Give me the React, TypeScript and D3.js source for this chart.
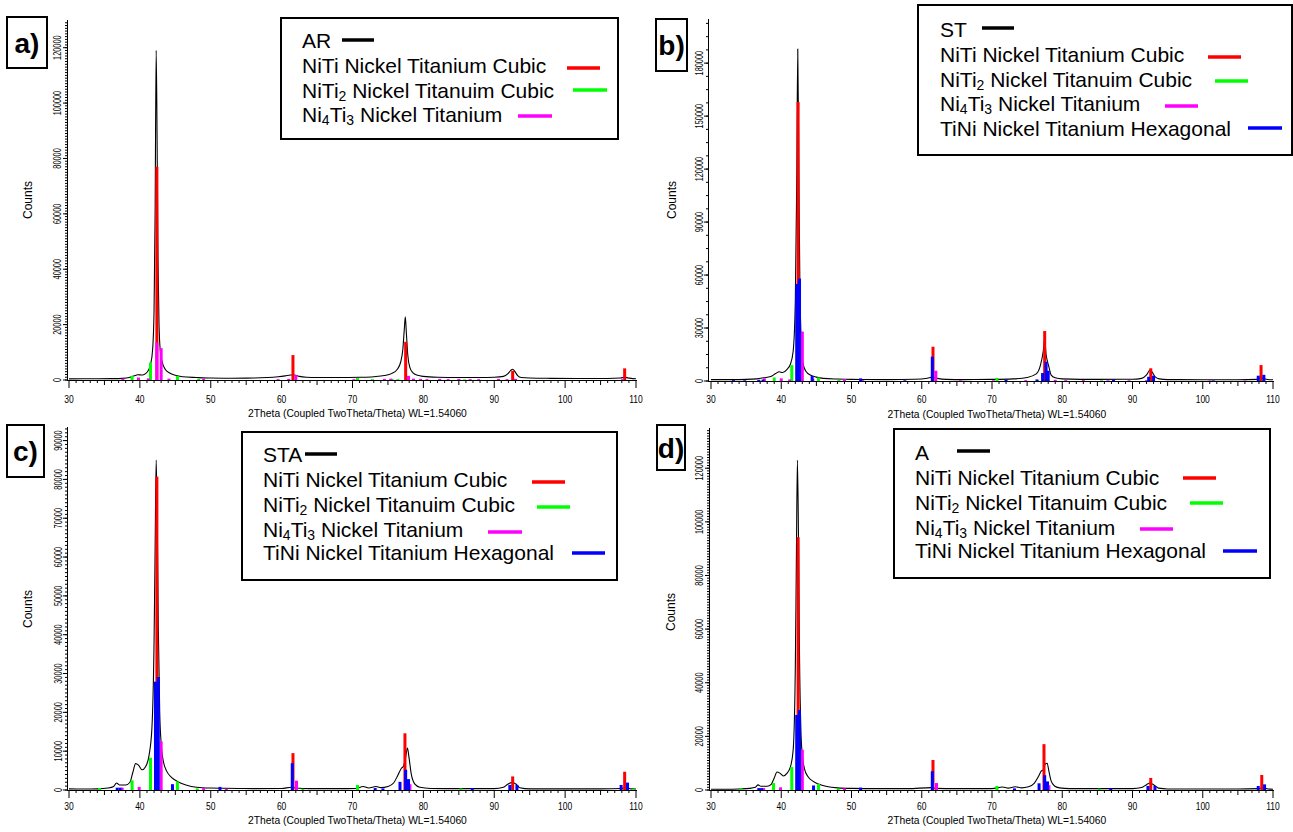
import React from 'react';
import * as d3 from 'd3';

type Pt = [number, number];

// measured patterns: [2theta, counts]
const AR_pattern: Pt[] = [
  [30, 400], [32, 450], [34, 450], [36, 500], [37.5, 600], [38.5, 900], [39.2, 1500], [39.7, 1900],
  [40.3, 1800], [40.8, 2300], [41.2, 3500], [41.5, 5500], [41.8, 11000], [42.0, 25000], [42.15, 60000],
  [42.3, 119000], [42.42, 90000], [42.55, 45000], [42.7, 20000], [42.9, 10000], [43.2, 6000], [43.6, 3800],
  [44.2, 2500], [45, 1700], [46, 1200], [48, 900], [50, 700], [53, 650], [56, 700], [58, 900], [59.5, 1200],
  [60.5, 1500], [61.3, 1800], [61.8, 1800], [62.5, 1300], [63.5, 1000], [65, 900], [68, 900], [71, 1000],
  [73, 1200], [74.5, 1600], [75.5, 2300], [76.3, 3800], [76.8, 6500], [77.1, 11000], [77.3, 18000],
  [77.45, 22800], [77.6, 17000], [77.8, 9000], [78.1, 4500], [78.5, 2700], [79.2, 1700], [80, 1300],
  [82, 1000], [85, 900], [88, 900], [90, 1000], [91.3, 1300], [91.9, 2200], [92.3, 3400], [92.6, 3900],
  [92.9, 3100], [93.3, 1600], [93.8, 900], [95, 700], [98, 600], [102, 550], [106, 550], [107.8, 700],
  [108.4, 1000], [108.9, 750], [109.5, 500], [110, 450],
];
const ST_pattern: Pt[] = [
  [30, 800], [33, 800], [35, 900], [36.5, 1200], [37.5, 1800], [38.5, 2500], [39.2, 4200], [39.7, 5200],
  [40.2, 4800], [40.8, 6500], [41.3, 9500], [41.7, 17000], [42.0, 45000], [42.2, 110000], [42.35, 188000],
  [42.5, 120000], [42.65, 55000], [42.85, 22000], [43.1, 10000], [43.5, 5500], [44.2, 3200], [45, 2200],
  [46, 1500], [48, 1100], [50, 900], [55, 800], [59, 1000], [60.8, 1600], [61.5, 2200], [62.2, 1500],
  [63.5, 900], [66, 800], [70, 900], [73, 1200], [75, 2000], [76.3, 4000], [76.9, 9000], [77.3, 17000],
  [77.5, 23800], [77.7, 15000], [77.9, 11000], [78.1, 8000], [78.4, 3500], [79, 1800], [80, 1200],
  [85, 900], [90, 1000], [91.3, 1500], [92.0, 3500], [92.5, 6200], [92.8, 5000], [93.2, 2500], [93.8, 1200],
  [95, 800], [100, 700], [105, 700], [107.8, 900], [108.3, 1800], [108.8, 1200], [109.5, 700], [110, 700],
];
const STA_pattern: Pt[] = [
  [30, 300], [32, 250], [34, 300], [35.5, 500], [36.3, 900], [36.7, 1800], [37.1, 1300], [38.0, 1300],
  [38.6, 2000], [39.0, 4500], [39.4, 6800], [39.8, 6400], [40.3, 5200], [40.8, 6000], [41.3, 9000],
  [41.7, 16000], [42.0, 38000], [42.15, 62000], [42.3, 85000], [42.45, 70000], [42.6, 42000], [42.8, 20000],
  [43.0, 12000], [43.3, 7500], [43.8, 4800], [44.5, 3200], [45.3, 2200], [46.5, 1300], [48, 700], [50, 500],
  [52, 450], [54, 400], [56, 350], [60, 400], [61.4, 700], [62, 500], [64, 350], [68, 350], [70.5, 400],
  [71.5, 900], [72.3, 500], [73.3, 900], [74, 600], [75, 900], [75.8, 1800], [76.4, 3800], [76.9, 5600],
  [77.2, 6200], [77.5, 8500], [77.75, 10800], [78.0, 8000], [78.3, 4000], [78.8, 1500], [79.5, 700],
  [81, 400], [85, 350], [90, 350], [91.3, 700], [91.9, 1500], [92.5, 1900], [93.1, 1500], [93.6, 600],
  [95, 300], [100, 300], [105, 300], [108, 400], [108.6, 600], [109.3, 300], [110, 250],
];
const A_pattern: Pt[] = [
  [30, 300], [32, 300], [34, 400], [35.5, 600], [36.3, 1000], [36.7, 1900], [37.1, 1400], [38.0, 1400],
  [38.6, 2200], [39.0, 4500], [39.4, 6700], [39.8, 6300], [40.3, 5200], [40.8, 6200], [41.3, 8600],
  [41.7, 15000], [42.0, 45000], [42.15, 85000], [42.3, 123000], [42.45, 95000], [42.6, 50000], [42.8, 22000],
  [43.0, 13000], [43.3, 8000], [43.8, 5000], [44.5, 3300], [45.3, 2200], [46.5, 1300], [48, 800], [50, 600],
  [54, 500], [58, 500], [61.4, 900], [62, 600], [65, 500], [70, 500], [71.5, 1100], [72.3, 700], [73.3, 1200],
  [74.2, 800], [75.2, 1200], [76, 2500], [76.6, 5000], [77.0, 7000], [77.3, 7500], [77.6, 9800],
  [77.85, 10000], [78.1, 7000], [78.4, 3500], [78.9, 1500], [79.6, 800], [81, 500], [85, 500], [90, 500],
  [91.3, 900], [92.0, 2000], [92.5, 2600], [93.1, 1800], [93.7, 700], [95, 400], [100, 400], [105, 400],
  [108, 500], [108.6, 800], [109.3, 400], [110, 300],
];

// reference sticks: [2theta, counts]
const AR_NiTi: Pt[] = [[42.4, 77000], [61.6, 9000], [77.5, 13800], [92.6, 3300], [108.4, 4200]];
const AR_NiTi2: Pt[] = [[38.9, 1500], [41.5, 6300], [45.3, 1500], [48.3, 400], [70.7, 700], [72.8, 300], [75.6, 300], [76.4, 300], [85.8, 200]];
const AR_Ni4Ti3: Pt[] = [
  [37.6, 500], [39.8, 900], [41.2, 600], [42.4, 13500], [43.0, 11500], [44.1, 500], [49.0, 400], [59.5, 300],
  [61.0, 400], [62.0, 1800], [70.2, 300], [74.5, 400], [75.4, 500], [77.9, 1500], [78.6, 500], [79.6, 400],
  [80.5, 300], [82.3, 400], [83.5, 300], [85.0, 400], [86.6, 300], [87.8, 300], [90.6, 400], [91.8, 300],
  [93.0, 400], [108.1, 300],
];

const ST_NiTi: Pt[] = [[42.4, 158000], [61.6, 19400], [77.5, 28300], [92.6, 7200], [108.3, 9000]];
const ST_NiTi2: Pt[] = [[39.0, 2000], [41.5, 9000], [45.3, 2000], [48.2, 600], [70.7, 1700], [76.5, 500], [85.6, 400]];
const ST_Ni4Ti3: Pt[] = [
  [37.6, 1500], [40.0, 1500], [41.2, 900], [42.4, 33000], [43.0, 28000], [44.5, 1200], [49.0, 1000],
  [51.6, 500], [62.0, 5800], [65.5, 400], [70.2, 400], [74.8, 500], [77.8, 3400], [79.0, 700], [80.5, 500],
  [83.0, 500], [86.5, 400], [89.5, 400], [92.0, 500], [101, 300], [106, 300],
];
const ST_TiNi: Pt[] = [
  [33.2, 500], [34.8, 400], [36.8, 700], [37.4, 800], [42.2, 55000], [42.6, 58000], [44.4, 2800], [51.3, 1500],
  [57.6, 400], [61.5, 13800], [72.0, 800], [76.4, 900], [77.2, 4500], [77.7, 10900], [78.0, 5800], [87.3, 800],
  [92.3, 2400], [93.0, 3000], [101.5, 300], [107.9, 3000], [108.7, 3500],
];

const STA_NiTi: Pt[] = [[42.4, 80700], [61.6, 9500], [77.4, 14600], [92.6, 3500], [108.4, 4700]];
const STA_NiTi2: Pt[] = [[34.3, 500], [38.9, 2500], [41.5, 8300], [45.3, 2200], [48.1, 400], [63.0, 300], [70.7, 1300], [85.3, 400], [109.6, 300]];
const STA_Ni4Ti3: Pt[] = [[37.5, 600], [39.9, 800], [42.4, 14200], [43.0, 12500], [49.0, 500], [52.2, 300], [62.1, 2400], [77.6, 1500], [78.1, 1500]];
const STA_TiNi: Pt[] = [
  [36.8, 600], [37.2, 600], [42.2, 27900], [42.6, 29100], [44.6, 1500], [51.3, 800], [61.5, 6900], [73.2, 500],
  [74.3, 400], [76.7, 2100], [77.5, 5200], [77.9, 2800], [86.9, 500], [92.2, 1300], [93.2, 1300], [107.9, 1300],
  [108.8, 1900],
];

const A_NiTi: Pt[] = [[42.4, 94300], [61.6, 11200], [77.4, 17100], [92.6, 4500], [108.4, 5600]];
const A_NiTi2: Pt[] = [[34.3, 600], [38.9, 2600], [41.5, 8600], [45.3, 2300], [48.1, 500], [70.7, 1500], [85.3, 500]];
const A_Ni4Ti3: Pt[] = [[37.5, 700], [39.9, 1000], [42.4, 14200], [43.0, 15000], [49.0, 600], [62.1, 2600], [77.6, 1800], [78.1, 1800]];
const A_TiNi: Pt[] = [
  [36.8, 700], [37.2, 700], [42.2, 28000], [42.6, 29800], [44.6, 1700], [51.3, 900], [61.5, 7000], [73.2, 600],
  [76.7, 2500], [77.5, 5500], [77.9, 3200], [86.9, 600], [92.2, 1500], [93.2, 1500], [107.9, 1500], [108.8, 2100],
];

const xTickLabels = [30, 40, 50, 60, 70, 80, 90, 100, 110];
const yTicksAR = [0, 20000, 40000, 60000, 80000, 100000, 120000];
const yTicksST = [0, 30000, 60000, 90000, 120000, 150000, 180000];
const yTicksSTA = [0, 10000, 20000, 30000, 40000, 50000, 60000, 70000, 80000, 90000];
const yTicksA = [0, 20000, 40000, 60000, 80000, 100000, 120000];

const phaseKeys = ['NiTi', 'NiTi2', 'Ni4Ti3', 'TiNi'];
const phaseColors: Record<string, string> = { NiTi: '#ff0000', NiTi2: '#00ff00', Ni4Ti3: '#ff00ff', TiNi: '#0000ff' };
// [text, isSubscript]
const phaseLabels: Record<string, [string, boolean][]> = {
  NiTi: [['NiTi Nickel Titanium Cubic', false]],
  NiTi2: [['NiTi', false], ['2', true], [' Nickel Titanuim Cubic', false]],
  Ni4Ti3: [['Ni', false], ['4', true], ['Ti', false], ['3', true], [' Nickel Titanium', false]],
  TiNi: [['TiNi Nickel Titanium Hexagonal', false]],
};

const FONT = '"Liberation Sans", Arial, Helvetica, sans-serif';

const panels = [
  {
    tag: 'a)', sample: 'AR', pattern: AR_pattern,
    sticks: { NiTi: AR_NiTi, NiTi2: AR_NiTi2, Ni4Ti3: AR_Ni4Ti3 } as Record<string, Pt[]>,
    yMax: 130000, yTicks: yTicksAR, yMinor: 1000,
    x0: 69, x1: 636, axisX: 67, yBase: 380, yTop: 20,
    xLabY: 403, titleY: 417, countsX: 32, countsY: 200, yLabX: 61,
    tagBox: [7, 17, 47, 68],
    legBox: [281, 18, 618, 139], legX: 302, legBase: [48, 73, 97.5, 122],
    legLines: [[342, 374, 40], [567, 600, 68], [573, 607, 90], [518, 552, 116]],
  },
  {
    tag: 'b)', sample: 'ST', pattern: ST_pattern,
    sticks: { NiTi: ST_NiTi, NiTi2: ST_NiTi2, Ni4Ti3: ST_Ni4Ti3, TiNi: ST_TiNi } as Record<string, Pt[]>,
    yMax: 205000, yTicks: yTicksST, yMinor: 7500,
    x0: 711, x1: 1273, axisX: 708, yBase: 381, yTop: 19,
    xLabY: 403, titleY: 418, countsX: 676, countsY: 200, yLabX: 703,
    tagBox: [656, 19, 687, 71],
    legBox: [918, 5, 1292, 155], legX: 940, legBase: [36.5, 61.5, 86.5, 111, 135.5],
    legLines: [[982, 1014, 28], [1208, 1241, 57], [1215, 1248, 81], [1165, 1198, 106], [1248, 1282, 128]],
  },
  {
    tag: 'c)', sample: 'STA', pattern: STA_pattern,
    sticks: { NiTi: STA_NiTi, NiTi2: STA_NiTi2, Ni4Ti3: STA_Ni4Ti3, TiNi: STA_TiNi } as Record<string, Pt[]>,
    yMax: 93500, yTicks: yTicksSTA, yMinor: 1000,
    x0: 69, x1: 636, axisX: 67, yBase: 790, yTop: 427,
    xLabY: 810, titleY: 824, countsX: 32, countsY: 609, yLabX: 62,
    tagBox: [7, 425, 44, 477],
    legBox: [242, 432, 617, 580], legX: 263, legBase: [461.5, 486.5, 511.5, 536.5, 560],
    legLines: [[305, 337, 454], [532, 565, 482], [537, 570, 507], [488, 522, 532], [572, 605, 553]],
  },
  {
    tag: 'd)', sample: 'A', pattern: A_pattern,
    sticks: { NiTi: A_NiTi, NiTi2: A_NiTi2, Ni4Ti3: A_Ni4Ti3, TiNi: A_TiNi } as Record<string, Pt[]>,
    yMax: 135000, yTicks: yTicksA, yMinor: 1000,
    x0: 711, x1: 1273, axisX: 709, yBase: 790, yTop: 428,
    xLabY: 810, titleY: 824, countsX: 675, countsY: 612, yLabX: 703,
    tagBox: [657, 425, 685, 470],
    legBox: [894, 429, 1270, 578], legX: 915, legBase: [460, 485, 510, 535, 558],
    legLines: [[957, 990, 451], [1183, 1216, 478], [1190, 1223, 503], [1140, 1173, 529], [1223, 1257, 551]],
  },
];

const LegendText = ({ parts, x, y }: { parts: [string, boolean][]; x: number; y: number }) => {
  let shifted = false;
  return (
    <text x={x} y={y} fontSize={21} fontFamily={FONT} fill="#000">
      {parts.map(([t, sub], i) => {
        let dy = 0;
        if (sub && !shifted) { dy = 3; shifted = true; }
        else if (!sub && shifted) { dy = -3; shifted = false; }
        return (
          <tspan key={i} dy={dy || undefined} fontSize={sub ? 14 : 21}>{t}</tspan>
        );
      })}
    </text>
  );
};

const Panel = ({ p }: { p: typeof panels[number] }) => {
  const xs = d3.scaleLinear().domain([30, 110]).range([p.x0, p.x1]);
  const ys = d3.scaleLinear().domain([0, p.yMax]).range([p.yBase, p.yTop]);
  const line = d3.line<Pt>().x(d => xs(d[0])).y(d => ys(d[1])).curve(d3.curveMonotoneX);
  const xMinor = d3.range(30, 110.5, 1);
  const yMinor = d3.range(0, p.yMax, p.yMinor);
  const present = phaseKeys.filter(k => p.sticks[k]);
  const [bx0, by0, bx1, by1] = p.tagBox;
  const [lx0, ly0, lx1, ly1] = p.legBox;

  return (
    <g>
      {/* curve then reference sticks */}
      <path d={line(p.pattern) || ''} fill="none" stroke="#000" strokeWidth={1.1} />
      {present.map(k => (
        <g key={k} fill={phaseColors[k]}>
          {p.sticks[k].map(([t, h], i) => (
            <rect key={i} x={xs(t) - 1.5} y={ys(h)} width={3} height={p.yBase - ys(h)} />
          ))}
        </g>
      ))}

      {/* axes */}
      <g stroke="#000" strokeWidth={1}>
        <line x1={p.axisX} x2={p.x1 + 1} y1={p.yBase + 0.5} y2={p.yBase + 0.5} />
        <line x1={p.axisX + 0.5} x2={p.axisX + 0.5} y1={p.yBase} y2={p.yTop} />
        {xMinor.map(v => {
          const len = v % 10 === 0 ? 8 : v % 5 === 0 ? 5 : 3;
          return <line key={v} x1={xs(v)} x2={xs(v)} y1={p.yBase} y2={p.yBase + len} />;
        })}
        {yMinor.map(v => (
          <line key={v} x1={p.axisX} x2={p.axisX - 2} y1={ys(v)} y2={ys(v)} />
        ))}
        {p.yTicks.map(v => (
          <line key={'M' + v} x1={p.axisX} x2={p.axisX - 4} y1={ys(v)} y2={ys(v)} />
        ))}
      </g>
      <g fontFamily={FONT} fill="#000">
        {xTickLabels.map(v => (
          <text key={v} transform={`translate(${xs(v)},${p.xLabY}) scale(0.74,1)`} textAnchor="middle" fontSize={11.5}>{v}</text>
        ))}
        {p.yTicks.map(v => (
          <text key={v} transform={`translate(${p.yLabX},${ys(v)}) rotate(-90) scale(0.64,1)`} textAnchor="middle" fontSize={11.5}>{v}</text>
        ))}
        <text x={xs(70.7)} y={p.titleY} textAnchor="middle" fontSize={10.3}>2Theta (Coupled TwoTheta/Theta) WL=1.54060</text>
        <text transform={`translate(${p.countsX},${p.countsY}) rotate(-90)`} textAnchor="middle" fontSize={12}>Counts</text>
      </g>

      {/* panel tag */}
      <rect x={bx0} y={by0} width={bx1 - bx0} height={by1 - by0} fill="#fff" stroke="#000" strokeWidth={2} />
      <text x={(bx0 + bx1) / 2} y={(by0 + by1) / 2 + 10} textAnchor="middle" fontSize={28} fontWeight="bold" fontFamily={FONT}>{p.tag}</text>

      {/* legend */}
      <rect x={lx0} y={ly0} width={lx1 - lx0} height={ly1 - ly0} fill="#fff" stroke="#000" strokeWidth={2} />
      <text x={p.legX} y={p.legBase[0]} fontSize={21} fontFamily={FONT}>{p.sample}</text>
      <line x1={p.legLines[0][0]} x2={p.legLines[0][1]} y1={p.legLines[0][2]} y2={p.legLines[0][2]} stroke="#000" strokeWidth={3.5} />
      {present.map((k, i) => (
        <g key={k}>
          <LegendText parts={phaseLabels[k]} x={p.legX} y={p.legBase[i + 1]} />
          <line x1={p.legLines[i + 1][0]} x2={p.legLines[i + 1][1]} y1={p.legLines[i + 1][2]} y2={p.legLines[i + 1][2]}
            stroke={phaseColors[k]} strokeWidth={3.5} />
        </g>
      ))}
    </g>
  );
};

export default function App() {
  return (
    <svg width={1293} height={832} style={{ position: 'absolute', left: 0, top: 0, background: '#fff' }}>
      <rect width={1293} height={832} fill="#fff" />
      {panels.map(p => <Panel key={p.tag} p={p} />)}
    </svg>
  );
}
